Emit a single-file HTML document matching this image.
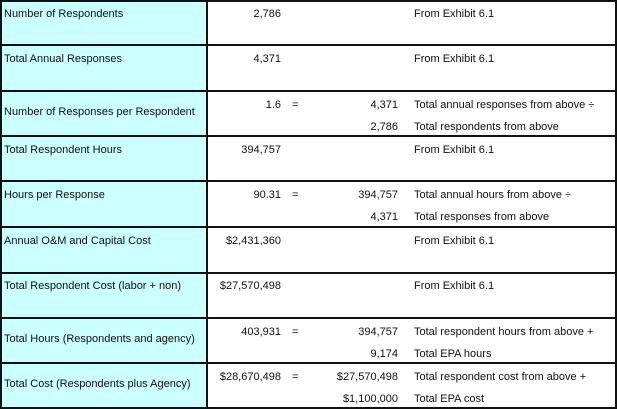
<!DOCTYPE html>
<html><head><meta charset="utf-8"><style>
body{margin:0;width:617px;height:409px;background:#fff;font-family:"Liberation Sans",sans-serif;font-size:11px;color:#111;position:relative;overflow:hidden}
.cy{position:absolute;left:0;top:0;width:207px;height:408px;background:#ccffff}
.h{position:absolute;left:0;width:617px;height:2px;background:#111}
.v{position:absolute;top:0;width:2px;height:409px;background:#111}
.t{position:absolute;white-space:nowrap;line-height:12px}
.r{text-align:right}
</style></head><body>
<div class="cy"></div>
<div class="h" style="top:0"></div>
<div class="h" style="top:44px"></div>
<div class="h" style="top:90px"></div>
<div class="h" style="top:135px"></div>
<div class="h" style="top:180px"></div>
<div class="h" style="top:226px"></div>
<div class="h" style="top:272px"></div>
<div class="h" style="top:317px"></div>
<div class="h" style="top:362px"></div>
<div class="h" style="top:407px"></div>
<div class="v" style="left:0"></div>
<div class="v" style="left:206px"></div>
<div class="v" style="left:615px"></div>

<div class="t" style="left:4px;top:8px">Number of Respondents</div>
<div class="t" style="left:4px;top:53px">Total Annual Responses</div>
<div class="t" style="left:4px;top:106px">Number of Responses per Respondent</div>
<div class="t" style="left:4px;top:144px">Total Respondent Hours</div>
<div class="t" style="left:4px;top:189px">Hours per Response</div>
<div class="t" style="left:4px;top:235px">Annual O&amp;M and Capital Cost</div>
<div class="t" style="left:4px;top:280px">Total Respondent Cost (labor + non)</div>
<div class="t" style="left:4px;top:333px">Total Hours (Respondents and agency)</div>
<div class="t" style="left:4px;top:378px">Total Cost (Respondents plus Agency)</div>

<div class="t r" style="right:336px;top:8px">2,786</div>
<div class="t r" style="right:336px;top:53px">4,371</div>
<div class="t r" style="right:336px;top:99px">1.6</div>
<div class="t r" style="right:336px;top:144px">394,757</div>
<div class="t r" style="right:336px;top:189px">90.31</div>
<div class="t r" style="right:336px;top:235px">$2,431,360</div>
<div class="t r" style="right:336px;top:280px">$27,570,498</div>
<div class="t r" style="right:336px;top:326px">403,931</div>
<div class="t r" style="right:336px;top:371px">$28,670,498</div>

<div class="t" style="left:292px;top:99px">=</div>
<div class="t" style="left:292px;top:189px">=</div>
<div class="t" style="left:292px;top:326px">=</div>
<div class="t" style="left:292px;top:371px">=</div>

<div class="t r" style="right:219px;top:99px">4,371</div>
<div class="t r" style="right:219px;top:121px">2,786</div>
<div class="t r" style="right:219px;top:189px">394,757</div>
<div class="t r" style="right:219px;top:211px">4,371</div>
<div class="t r" style="right:219px;top:326px">394,757</div>
<div class="t r" style="right:219px;top:348px">9,174</div>
<div class="t r" style="right:219px;top:371px">$27,570,498</div>
<div class="t r" style="right:219px;top:393px">$1,100,000</div>

<div class="t" style="left:414px;top:8px">From Exhibit 6.1</div>
<div class="t" style="left:414px;top:53px">From Exhibit 6.1</div>
<div class="t" style="left:414px;top:99px">Total annual responses from above ÷</div>
<div class="t" style="left:414px;top:121px">Total respondents from above</div>
<div class="t" style="left:414px;top:144px">From Exhibit 6.1</div>
<div class="t" style="left:414px;top:189px">Total annual hours from above ÷</div>
<div class="t" style="left:414px;top:211px">Total responses from above</div>
<div class="t" style="left:414px;top:235px">From Exhibit 6.1</div>
<div class="t" style="left:414px;top:280px">From Exhibit 6.1</div>
<div class="t" style="left:414px;top:326px">Total respondent hours from above +</div>
<div class="t" style="left:414px;top:348px">Total EPA hours</div>
<div class="t" style="left:414px;top:371px">Total respondent cost from above +</div>
<div class="t" style="left:414px;top:393px">Total EPA cost</div>
</body></html>
